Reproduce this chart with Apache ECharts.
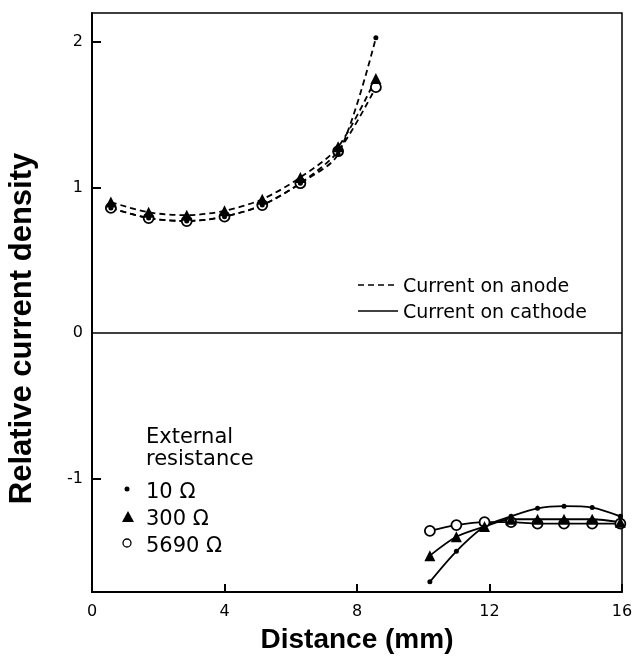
<!DOCTYPE html>
<html>
<head>
    <title>Relative current density</title>
    <script src="https://cdn.jsdelivr.net/npm/echarts@6/dist/echarts.min.js"></script>
    <style>
        html, body { margin: 0; padding: 0; background: #fff; }
    </style>
</head>
<body>
<div id="chart" style="width: 635px; height: 658px;"></div>

<script>
    // anode side (dashed), distance in mm
    var xAnode = [0.57, 1.71, 2.86, 4.0, 5.14, 6.29, 7.43, 8.57];
    var anode10 = [0.86, 0.79, 0.77, 0.80, 0.88, 1.03, 1.23, 2.03];
    var anode300 = [0.90, 0.83, 0.81, 0.84, 0.92, 1.07, 1.28, 1.75];
    var anode5690 = [0.86, 0.79, 0.77, 0.80, 0.88, 1.03, 1.25, 1.69];

    // cathode side (solid)
    var xCathode = [10.2, 11.0, 11.85, 12.65, 13.45, 14.25, 15.1, 15.95];
    var cathode10 = [-1.71, -1.50, -1.33, -1.26, -1.205, -1.19, -1.20, -1.26];
    var cathode300 = [-1.53, -1.40, -1.33, -1.28, -1.28, -1.28, -1.28, -1.30];
    var cathode5690 = [-1.36, -1.32, -1.30, -1.30, -1.31, -1.31, -1.31, -1.31];

    var xTicks = [0, 4, 8, 12, 16];
    var yLabels = [-1, 0, 1, 2];
    var yTicks = [-1, 1, 2];

    function pairs(xs, ys) {
        return xs.map(function (x, i) { return [x, ys[i]]; });
    }

    var dot = { symbol: 'circle', symbolSize: 5, itemStyle: { color: '#000' } };
    var tri = { symbol: 'triangle', symbolSize: 11, itemStyle: { color: '#000' } };
    var ring = { symbol: 'circle', symbolSize: 10, itemStyle: { color: '#fff', borderColor: '#000', borderWidth: 1.8 } };

    function makeSeries(name, xs, ys, mark, dashed) {
        return {
            name: name,
            type: 'line',
            data: pairs(xs, ys),
            smooth: 0.3,
            clip: false,
            symbol: mark.symbol,
            symbolSize: mark.symbolSize,
            showAllSymbol: true,
            itemStyle: mark.itemStyle,
            lineStyle: { color: '#000', width: 1.8, type: dashed ? [6, 4] : 'solid' },
            z: 3
        };
    }

    var series = [
        makeSeries('anode 5690', xAnode, anode5690, ring, true),
        makeSeries('anode 300', xAnode, anode300, tri, true),
        makeSeries('anode 10', xAnode, anode10, dot, true),
        makeSeries('cathode 5690', xCathode, cathode5690, ring, false),
        makeSeries('cathode 300', xCathode, cathode300, tri, false),
        makeSeries('cathode 10', xCathode, cathode10, dot, false)
    ];

    // zero line across the frame
    series[0].markLine = {
        silent: true,
        symbol: 'none',
        label: { show: false },
        lineStyle: { color: '#000', width: 1.5, type: 'solid' },
        data: [{ yAxis: 0 }]
    };

    var textFont = '"DejaVu Sans", sans-serif';
    var titleFont = '"Liberation Sans", Arial, sans-serif';

    var chart = echarts.init(document.getElementById('chart'));
    chart.setOption({
        animation: false,
        backgroundColor: '#fff',
        grid: {
            left: 92, right: 13, top: 13, bottom: 66,
            containLabel: false,
            outerBoundsMode: 'none',
            show: true, borderColor: '#000', borderWidth: 1.5
        },
        xAxis: {
            type: 'value',
            min: 0, max: 16, interval: 4,
            name: 'Distance (mm)',
            nameLocation: 'middle',
            nameGap: 24,
            nameMoveOverlap: false,
            nameTextStyle: { fontFamily: titleFont, fontWeight: 'bold', fontSize: 28, color: '#000' },
            axisLine: { onZero: false, lineStyle: { color: '#000', width: 2 } },
            axisTick: { inside: true, length: 8, lineStyle: { color: '#000', width: 2 }, customValues: xTicks },
            axisLabel: { color: '#000', fontFamily: textFont, fontSize: 16, margin: 4, customValues: xTicks },
            splitLine: { show: false }
        },
        yAxis: {
            type: 'value',
            min: -1.78, max: 2.2,
            name: 'Relative current density',
            nameLocation: 'middle',
            nameGap: 43,
            nameTextStyle: { fontFamily: titleFont, fontWeight: 'bold', fontSize: 31, color: '#000', padding: [0, 52, 0, 0] },
            axisLine: { onZero: false, lineStyle: { color: '#000', width: 2 } },
            axisTick: { inside: true, length: 9, lineStyle: { color: '#000', width: 2 }, customValues: yTicks },
            axisLabel: { color: '#000', fontFamily: textFont, fontSize: 16, margin: 9, customValues: yLabels },
            splitLine: { show: false }
        },
        graphic: [
            // line style key
            { type: 'line', shape: { x1: 358, y1: 285, x2: 398, y2: 285 }, style: { stroke: '#000', lineWidth: 1.5, lineDash: [6, 4] } },
            { type: 'text', left: 403, top: 268, style: { text: 'Current on anode', font: '19px ' + textFont, fill: '#000' } },
            { type: 'line', shape: { x1: 358, y1: 311, x2: 398, y2: 311 }, style: { stroke: '#000', lineWidth: 1.5 } },
            { type: 'text', left: 403, top: 294, style: { text: 'Current on cathode', font: '19px ' + textFont, fill: '#000' } },
            // marker key
            { type: 'text', left: 146, top: 417, style: { text: 'External\nresistance', font: '21px ' + textFont, lineHeight: 22, fill: '#000' } },
            { type: 'circle', shape: { cx: 127, cy: 489, r: 2.5 }, style: { fill: '#000' } },
            { type: 'text', left: 146, top: 472, style: { text: '10 \u03a9', font: '21px ' + textFont, fill: '#000' } },
            { type: 'polygon', shape: { points: [[128, 511], [122, 522], [134, 522]] }, style: { fill: '#000' } },
            { type: 'text', left: 146, top: 499, style: { text: '300 \u03a9', font: '21px ' + textFont, fill: '#000' } },
            { type: 'circle', shape: { cx: 127, cy: 543, r: 4 }, style: { fill: '#fff', stroke: '#000', lineWidth: 1.3 } },
            { type: 'text', left: 146, top: 526, style: { text: '5690 \u03a9', font: '21px ' + textFont, fill: '#000' } }
        ],
        series: series
    });
</script>
</body>
</html>
